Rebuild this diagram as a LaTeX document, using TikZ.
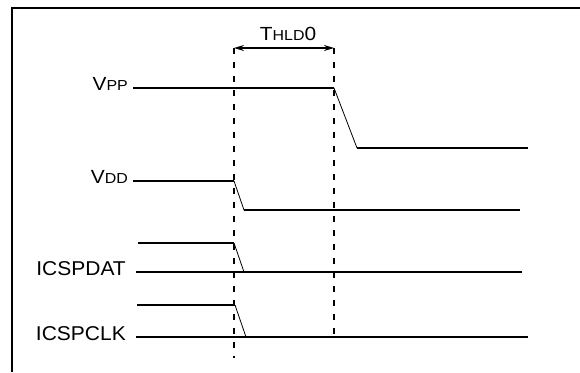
\documentclass[tikz,border=0pt]{standalone}
\usepackage{fontspec}
\setmainfont{Liberation Sans}
\usetikzlibrary{arrows.meta}
\newcommand{\bigtxt}[1]{\scalebox{1.1}[1]{\fontsize{19}{19}\selectfont #1}}
\newcommand{\smltxt}[1]{\scalebox{1.1}[1]{\fontsize{14.5}{15}\selectfont #1}}
\newcommand{\lbltxt}[1]{\scalebox{1.05}[1]{\fontsize{20}{20}\selectfont #1}}
\begin{document}
\begin{tikzpicture}[x=1pt,y=-1pt,
  sig/.style={line width=1.5pt},
  edge/.style={line width=0.8pt},
  guide/.style={line width=1.5pt,dash pattern=on 6pt off 8pt},
  frame/.style={line width=2pt},
  lbl/.style={anchor=base east,inner sep=0pt}]
\useasboundingbox (0,0) rectangle (580,372);
% frame
\draw[frame] (12,372) -- (12,8) -- (580,8);
% guides
\coordinate (g1t) at (234,48);
\coordinate (g1b) at (234,358);
\coordinate (g2t) at (334,48);
\coordinate (g2b) at (334,337);
\draw[guide] (g1t) -- (g1b);
\draw[guide] (g2t) -- (g2b);
% dimension arrow
\draw[line width=1.5pt,{Stealth[length=10pt,width=6pt]}-{Stealth[length=10pt,width=6pt]}] (g1t) -- (g2t);
\node[inner sep=0pt,anchor=base] (thld) at (288,40) {\bigtxt{T}\smltxt{HLD}\bigtxt{0}};
% VPP
\node[lbl] (vpp) at (128,90) {\bigtxt{V}\smltxt{PP}};
\coordinate (vpp1) at (334,88);
\coordinate (vpp2) at (357,148);
\coordinate (vpp3) at (528,148);
\draw[sig] (133,88) -- (vpp1);
\draw[edge] (vpp1) -- (vpp2);
\draw[sig] (vpp2) -- (vpp3);
% VDD
\node[lbl] (vdd) at (128,183) {\bigtxt{V}\smltxt{DD}};
\coordinate (vdd1) at (234,181);
\coordinate (vdd2) at (244,210);
\coordinate (vdd3) at (520,210);
\draw[sig] (133,181) -- (vdd1);
\draw[edge] (vdd1) -- (vdd2);
\draw[sig] (vdd2) -- (vdd3);
% ICSPDAT
\node[lbl] (dat) at (126,275) {\lbltxt{ICSPDAT}};
\coordinate (dat0) at (138,243);
\coordinate (dat1) at (234,243);
\coordinate (dat2) at (244,272);
\draw[sig] (dat0) -- (dat1);
\draw[edge] (dat1) -- (dat2);
\draw[sig] (136,272) -- (522,272);
% ICSPCLK
\node[lbl] (clk) at (126,340) {\lbltxt{ICSPCLK}};
\coordinate (clk0) at (137,305);
\coordinate (clk1) at (235,305);
\coordinate (clk2) at (246,337);
\draw[sig] (clk0) -- (clk1);
\draw[edge] (clk1) -- (clk2);
\draw[sig] (136,337) -- (528,337);
\end{tikzpicture}
\end{document}
